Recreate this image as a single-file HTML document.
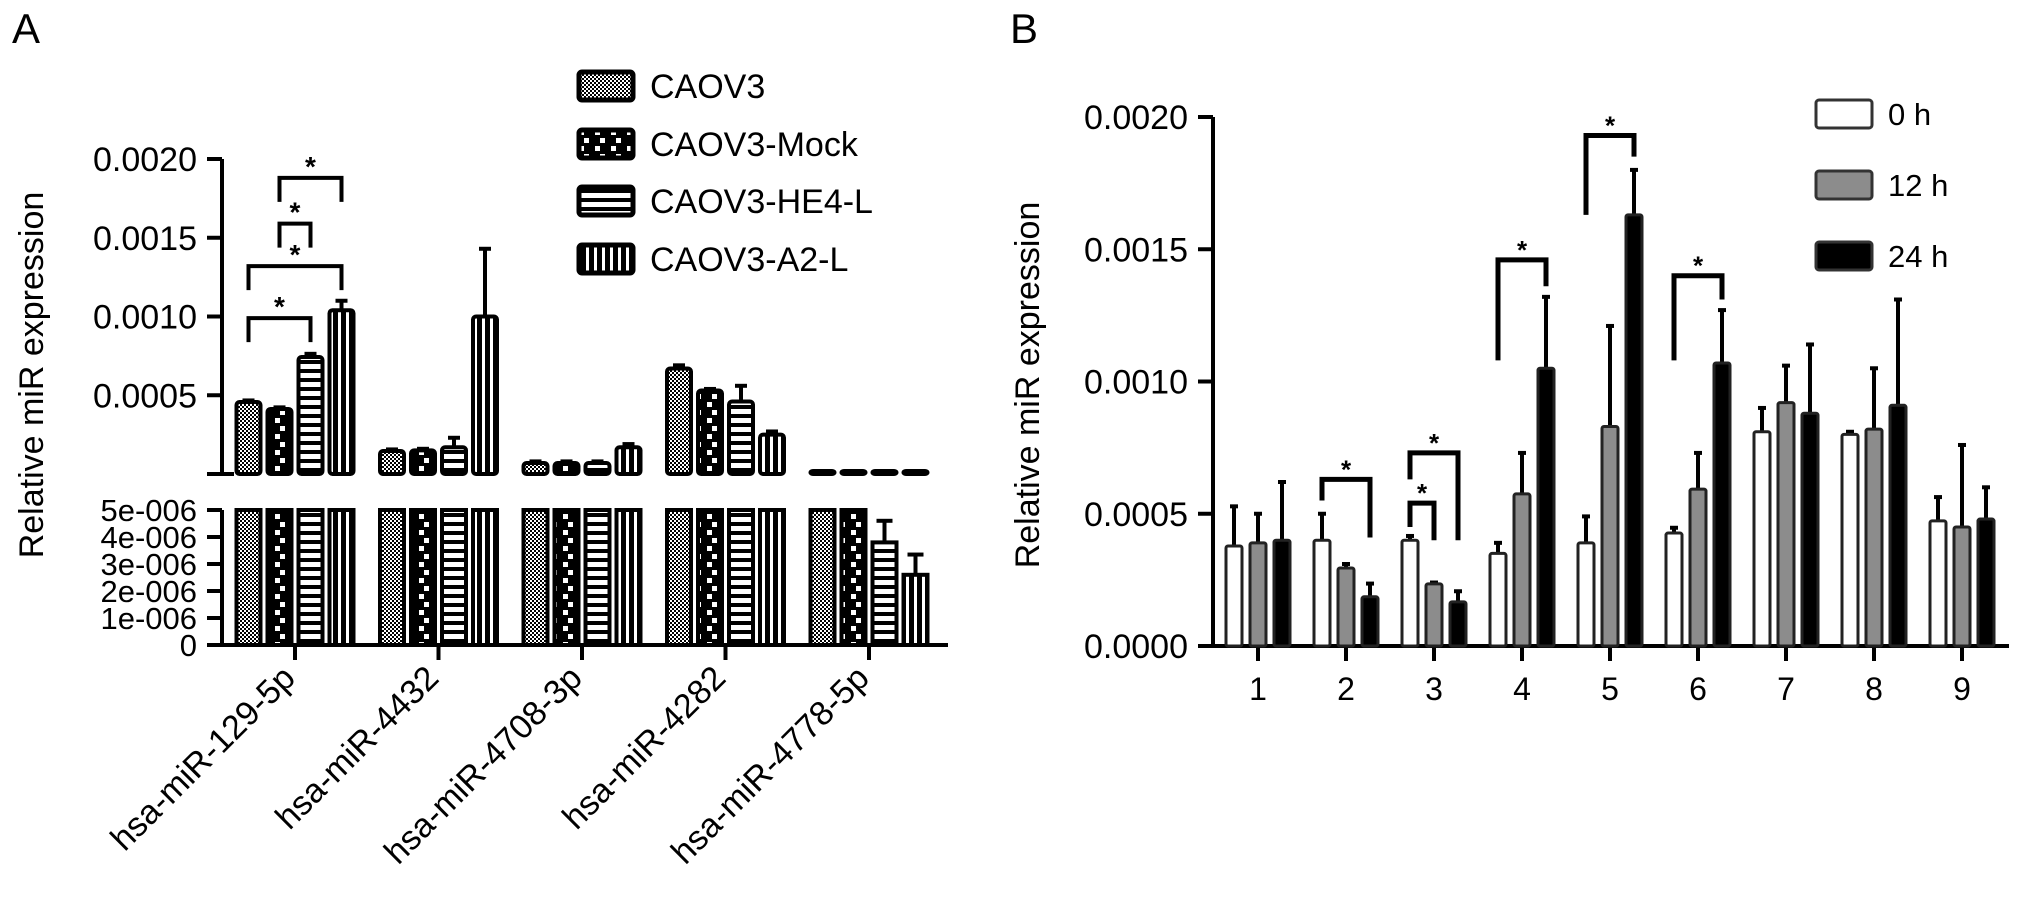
<!DOCTYPE html>
<html><head><meta charset="utf-8"><style>
html,body{margin:0;padding:0;background:#fff;}
svg{display:block;font-family:"Liberation Sans",Arial,sans-serif;}
</style></head><body>
<svg id="fig" width="2031" height="902" viewBox="0 0 2031 902" xmlns="http://www.w3.org/2000/svg">
<defs>
<pattern id="pCheck" width="4" height="4" patternUnits="userSpaceOnUse"><rect width="4" height="4" fill="#fff"/><rect width="2" height="2" fill="#000"/><rect x="2" y="2" width="2" height="2" fill="#000"/></pattern>
<pattern id="pMock" width="16" height="16" patternUnits="userSpaceOnUse"><rect width="16" height="16" fill="#000"/><rect x="3" y="2" width="5" height="5" fill="#fff"/><rect x="8" y="10" width="5" height="5" fill="#fff"/></pattern>
<pattern id="pH" width="8" height="9" patternUnits="userSpaceOnUse"><rect width="8" height="9" fill="#fff"/><rect width="8" height="4" fill="#000"/></pattern>
<pattern id="pV" width="8" height="8" patternUnits="userSpaceOnUse"><rect width="8" height="8" fill="#000"/><rect x="2" width="3" height="8" fill="#fff"/></pattern>
</defs>
<text x="12" y="43" font-size="42">A</text>
<text x="1010" y="43" font-size="42">B</text>
<text transform="translate(43,375) rotate(-90)" text-anchor="middle" font-size="34">Relative miR expression</text>
<text transform="translate(1039,385) rotate(-90)" text-anchor="middle" font-size="34">Relative miR expression</text>
<g id="gA"></g>
<g id="gB"></g>
</svg>
<script>
// ---- Panel A data ----
const aCategories = ["hsa-miR-129-5p","hsa-miR-4432","hsa-miR-4708-3p","hsa-miR-4282","hsa-miR-4778-5p"];
const aSeries = ["CAOV3","CAOV3-Mock","CAOV3-HE4-L","CAOV3-A2-L"];
const aCAOV3 = [0.000457, 0.000146, 0.00007, 0.00067, 0.0000052];
const aMock = [0.000413, 0.00015, 0.00007, 0.00053, 0.0000051];
const aHE4 = [0.000743, 0.00017, 0.00007, 0.00046, 0.0000038];
const aA2 = [0.00104, 0.001, 0.00017, 0.00025, 0.0000026];
const aCAOV3Err = [0.00001, 0.00001, 0.00001, 0.00002, 0];
const aMockErr = [0.00001, 0.00001, 0.00001, 0.00001, 0];
const aHE4Err = [0.00002, 0.00006, 0.00001, 0.0001, 0.0000008];
const aA2Err = [0.00006, 0.00043, 0.00002, 0.00002, 0.00000075];
const aUpperTicks = [0.0005, 0.0010, 0.0015, 0.0020];
const aUpperTickLabels = ["0.0005","0.0010","0.0015","0.0020"];
const aLowerTicks = [0, 1e-6, 2e-6, 3e-6, 4e-6, 5e-6];
const aLowerTickLabels = ["0","1e-006","2e-006","3e-006","4e-006","5e-006"];
const aSig = [[0,0,2,0.00099],[0,0,3,0.00132],[0,1,2,0.00159],[0,1,3,0.00188]];

// ---- Panel B data ----
const bCategories = ["1","2","3","4","5","6","7","8","9"];
const bSeries = ["0 h","12 h","24 h"];
const b0h = [0.000378, 0.0004, 0.0004, 0.00035, 0.00039, 0.000427, 0.00081, 0.0008, 0.000473];
const b12h = [0.00039, 0.000295, 0.000235, 0.000575, 0.00083, 0.000593, 0.00092, 0.00082, 0.00045];
const b24h = [0.0004, 0.000186, 0.000167, 0.00105, 0.00163, 0.00107, 0.00088, 0.00091, 0.00048];
const b0hErr = [0.00015, 0.0001, 0.000016, 0.00004, 0.0001, 0.00002, 0.00009, 0.00001, 0.00009];
const b12hErr = [0.00011, 0.000015, 0.000005, 0.000155, 0.00038, 0.000137, 0.00014, 0.00023, 0.00031];
const b24hErr = [0.00022, 0.00005, 0.00004, 0.00027, 0.00017, 0.0002, 0.00026, 0.0004, 0.00012];
const bTicks = [0, 0.0005, 0.0010, 0.0015, 0.0020];
const bTickLabels = ["0.0000","0.0005","0.0010","0.0015","0.0020"];
const bSig = [[1,0,2,0.00063,0.00055,0.00041],[2,0,1,0.00054,0.00045,0.00040],[2,0,2,0.00073,0.00063,0.00040],[3,0,2,0.00146,0.00108,0.00136],[4,0,2,0.00193,0.00163,0.00185],[5,0,2,0.00140,0.00108,0.00131]];

const NS = "http://www.w3.org/2000/svg";
function mk(parent, tag, attrs, name, text){
  const el = document.createElementNS(NS, tag);
  for (const k in attrs) el.setAttribute(k, attrs[k]);
  
  
  if (text !== undefined) el.textContent = text;
  parent.appendChild(el);
  return el;
}

// ---------- Panel A ----------
(function(){
  const g = document.getElementById('gA');
  const axX = 222, upTop = 159, upBot = 474, loTop = 510, loBot = 645, axEnd = 948;
  const yU = v => upBot - v / 0.0020 * (upBot - upTop);
  const yL = v => loBot - Math.min(v, 5e-6) / 5e-6 * (loBot - loTop);
  const xG = i => 295 + i * 143.5;
  const off = [-46.5, -15.5, 15.5, 46.5];
  const bw = 24;
  const fills = ["url(#pCheck)","url(#pMock)","url(#pH)","url(#pV)"];
  const vals = [aCAOV3, aMock, aHE4, aA2];
  const errs = [aCAOV3Err, aMockErr, aHE4Err, aA2Err];
  mk(g,'line',{x1:axX,y1:upTop,x2:axX,y2:upBot,stroke:'#000','stroke-width':4},'upper-y-axis');
  mk(g,'line',{x1:axX-15,y1:upBot,x2:axX+12,y2:upBot,stroke:'#000','stroke-width':4},'upper-y-axis-base-tick');
  aUpperTicks.forEach((t,i)=>{
    const y = yU(t);
    mk(g,'line',{x1:axX-15,y1:y,x2:axX,y2:y,stroke:'#000','stroke-width':4},'upper-y-tick');
    mk(g,'text',{x:axX-25,y:y+12,'text-anchor':'end','font-size':34},'upper-y-tick-label',aUpperTickLabels[i]);
  });
  mk(g,'line',{x1:axX,y1:loTop,x2:axX,y2:loBot,stroke:'#000','stroke-width':4},'lower-y-axis');
  aLowerTicks.forEach((t,i)=>{
    const y = loBot - t / 5e-6 * (loBot - loTop);
    mk(g,'line',{x1:axX-15,y1:y,x2:axX,y2:y,stroke:'#000','stroke-width':4},'lower-y-tick');
    mk(g,'text',{x:axX-25,y:y+11,'text-anchor':'end','font-size':31},'lower-y-tick-label',aLowerTickLabels[i]);
  });
  mk(g,'line',{x1:axX-2,y1:loBot,x2:axEnd,y2:loBot,stroke:'#000','stroke-width':4},'x-axis');
  aCategories.forEach((c,i)=>{
    const x = xG(i);
    mk(g,'line',{x1:x,y1:loBot,x2:x,y2:660,stroke:'#000','stroke-width':4},'x-tick');
    mk(g,'text',{transform:`translate(${x+2},${680}) rotate(-45)`,'text-anchor':'end','font-size':34},'x-tick-label',c);
    vals.forEach((arr,s)=>{
      const cx = x + off[s], v = arr[i], e = errs[s][i];
      const yt = yU(v);
      const h = Math.max(upBot - yt, 3);
      if (e > 0 && v > 2e-5) {
        mk(g,'line',{x1:cx,y1:yU(v+e),x2:cx,y2:yt,stroke:'#000','stroke-width':4},'error-bar');
        mk(g,'line',{x1:cx-6,y1:yU(v+e),x2:cx+6,y2:yU(v+e),stroke:'#000','stroke-width':4},'error-cap');
      }
      mk(g,'rect',{x:cx-bw/2,y:upBot-h,width:bw,height:h,rx:3,fill:fills[s],stroke:'#000','stroke-width':4},'bar-upper-'+aSeries[s].toLowerCase());
      const yl = yL(v);
      if (v < 5e-6 && e > 0) {
        const ye = yL(v+e);
        mk(g,'line',{x1:cx,y1:ye,x2:cx,y2:yl,stroke:'#000','stroke-width':4},'error-bar');
        mk(g,'line',{x1:cx-8,y1:ye,x2:cx+8,y2:ye,stroke:'#000','stroke-width':4},'error-cap');
      }
      mk(g,'rect',{x:cx-bw/2,y:yl,width:bw,height:loBot-yl,fill:fills[s],stroke:'#000','stroke-width':4},'bar-lower-'+aSeries[s].toLowerCase());
    });
  });
  aSig.forEach(sg=>{
    const x1 = xG(sg[0]) + off[sg[1]], x2 = xG(sg[0]) + off[sg[2]], y = yU(sg[3]);
    mk(g,'path',{d:`M${x1},${y+24} L${x1},${y} L${x2},${y} L${x2},${y+24}`,fill:'none',stroke:'#000','stroke-width':4},'significance-bracket');
    mk(g,'text',{x:(x1+x2)/2,y:y-2,'text-anchor':'middle','font-size':28,'font-weight':'bold'},'significance-star','*');
  });
  const lY = [86,144,201,259];
  aSeries.forEach((s,i)=>{
    mk(g,'rect',{x:579,y:lY[i]-14,width:54,height:28,rx:3,fill:fills[i],stroke:'#000','stroke-width':5},'legend-swatch');
    mk(g,'text',{x:650,y:lY[i]+12,'font-size':34},'legend-label',s);
  });
})();

// ---------- Panel B ----------
(function(){
  const g = document.getElementById('gB');
  const axX = 1213, top = 117, bot = 646, axEnd = 2009;
  const y = v => bot - v / 0.0020 * (bot - top);
  const xG = i => 1258 + i * 88;
  const off = [-24, 0, 24];
  const bw = 16;
  const fills = ['#fff','#8c8c8c','#000'];
  const vals = [b0h, b12h, b24h];
  const errs = [b0hErr, b12hErr, b24hErr];
  mk(g,'line',{x1:axX,y1:top,x2:axX,y2:bot,stroke:'#000','stroke-width':4},'y-axis');
  bTicks.forEach((t,i)=>{
    const yy = y(t);
    mk(g,'line',{x1:axX-15,y1:yy,x2:axX,y2:yy,stroke:'#000','stroke-width':4},'y-tick');
    mk(g,'text',{x:axX-25,y:yy+12,'text-anchor':'end','font-size':34},'y-tick-label',bTickLabels[i]);
  });
  mk(g,'line',{x1:axX-2,y1:bot,x2:axEnd,y2:bot,stroke:'#000','stroke-width':4},'x-axis');
  bCategories.forEach((c,i)=>{
    const x = xG(i);
    mk(g,'line',{x1:x,y1:bot,x2:x,y2:661,stroke:'#000','stroke-width':4},'x-tick');
    mk(g,'text',{x:x,y:700,'text-anchor':'middle','font-size':32},'x-tick-label',c);
    vals.forEach((arr,s)=>{
      const cx = x + off[s], v = arr[i], e = errs[s][i];
      const ye = y(v+e);
      mk(g,'line',{x1:cx,y1:ye,x2:cx,y2:y(v),stroke:'#000','stroke-width':4},'error-bar');
      mk(g,'line',{x1:cx-4,y1:ye,x2:cx+4,y2:ye,stroke:'#000','stroke-width':4},'error-cap');
      mk(g,'rect',{x:cx-bw/2,y:y(v),width:bw,height:bot-y(v),rx:2,fill:fills[s],stroke:'#222','stroke-width':3},'bar-'+bSeries[s].replace(' ',''));
    });
  });
  bSig.forEach(sg=>{
    const x1 = xG(sg[0]) + off[sg[1]], x2 = xG(sg[0]) + off[sg[2]], yy = y(sg[3]);
    mk(g,'path',{d:`M${x1},${y(sg[4])} L${x1},${yy} L${x2},${yy} L${x2},${y(sg[5])}`,fill:'none',stroke:'#000','stroke-width':5},'significance-bracket');
    mk(g,'text',{x:(x1+x2)/2,y:yy-1,'text-anchor':'middle','font-size':26,'font-weight':'bold'},'significance-star','*');
  });
  const lY = [114,185,256];
  bSeries.forEach((s,i)=>{
    mk(g,'rect',{x:1816,y:lY[i]-14,width:56,height:28,rx:3,fill:fills[i],stroke:'#333','stroke-width':3},'legend-swatch');
    mk(g,'text',{x:1888,y:lY[i]+11,'font-size':31},'legend-label',s);
  });
})();
</script>
</body></html>
